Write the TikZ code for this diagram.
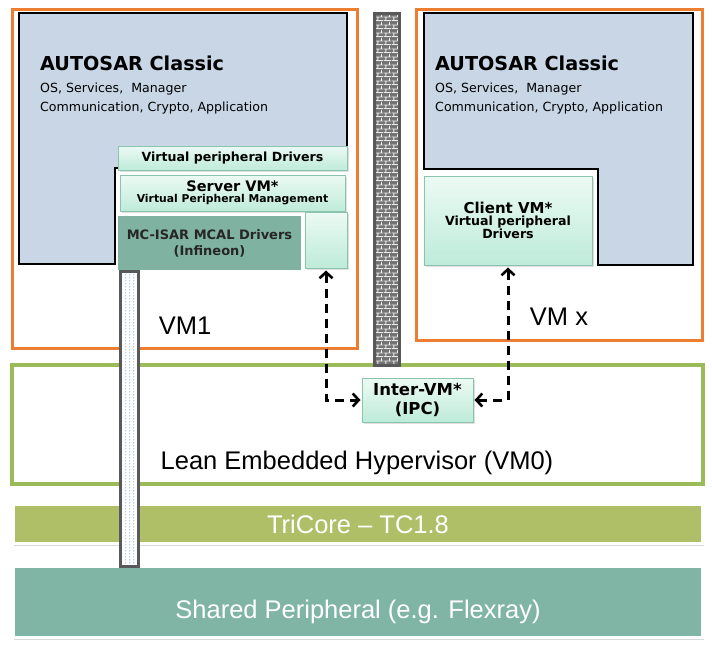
\documentclass[tikz,border=0pt]{standalone}
\usepackage{fontspec}
\setmainfont{DejaVu Sans}
\newfontfamily\arialfont{Liberation Sans}
\usepackage{tikz}
\usetikzlibrary{arrows.meta,shadows,patterns.meta}

\definecolor{VMOrange}{RGB}{237,125,49}
\definecolor{ASBlue}{RGB}{200,214,229}
\definecolor{MintTop}{RGB}{236,250,244}
\definecolor{MintBot}{RGB}{190,235,218}
\definecolor{MintLine}{RGB}{140,195,175}
\definecolor{McalTeal}{RGB}{127,178,161}
\definecolor{HypGreen}{RGB}{155,187,89}
\definecolor{CoreOlive}{RGB}{174,191,104}
\definecolor{PeriTeal}{RGB}{128,181,166}
\definecolor{WallGray}{RGB}{89,89,89}
\definecolor{BrickGray}{RGB}{115,115,115}
\definecolor{DotBlue}{RGB}{120,175,195}

\tikzdeclarepattern{
  name=wallbricks,
  type=uncolored,
  bounding box={(0pt,0pt) and (8pt,8pt)},
  tile size={(8pt,8pt)},
  code={
    \draw[line width=1pt] (0pt,0.5pt) -- (8pt,0.5pt) (0pt,4.5pt) -- (8pt,4.5pt)
      (2pt,0.5pt) -- (2pt,4.5pt) (6pt,4.5pt) -- (6pt,8pt);
  }
}
\tikzdeclarepattern{
  name=walldots,
  type=uncolored,
  bounding box={(0pt,0pt) and (4pt,3pt)},
  tile size={(4pt,3pt)},
  code={\fill (2pt,1.5pt) circle (0.8pt);}
}

\begin{document}
\begin{tikzpicture}[x=1pt,y=-1pt]
			\tikzstyle{VMFrame}	= [draw=VMOrange, line width=3pt]
			\tikzstyle{Autosar}	= [draw=black, fill=ASBlue, line width=1.5pt]
			\tikzstyle{Title}	= [anchor=base west, inner sep=0pt, font=\bfseries\fontsize{19.2}{22}\selectfont]
			\tikzstyle{SubText}	= [anchor=base west, inner sep=0pt, font=\fontsize{12.6}{14}\selectfont]
			\tikzstyle{Mint}	= [draw=MintLine, line width=1pt, top color=MintTop, bottom color=MintBot, inner sep=0pt, align=center,
			                       drop shadow={opacity=0.25, shadow xshift=1.5pt, shadow yshift=-1.5pt}]
			\tikzstyle{Mcal}	= [fill=McalTeal, text=black!85, inner sep=0pt, align=center]
			\tikzstyle{Wall}	= [draw=WallGray, line width=3pt]
			\tikzstyle{Band}	= [draw=white, line width=3.5pt, drop shadow={opacity=0.3, shadow xshift=0.8pt, shadow yshift=-2pt}]
			\tikzstyle{BigLabel}	= [font=\arialfont\fontsize{25.5}{30}\selectfont]
			\tikzstyle{BandLabel}	= [text=white, font=\arialfont\fontsize{25.5}{30}\selectfont]
			\tikzstyle{IPCLink}	= [dash pattern=on 9pt off 6pt, line width=3pt, shorten <=2pt, shorten >=1pt,
			                       {Straight Barb[length=6pt,width=13pt,line width=2.6pt]}-{Straight Barb[length=6pt,width=13pt,line width=2.6pt]}]

			\useasboundingbox (0,0) rectangle (712,645);

			% virtual machines
			\node (vm1) at (184.5,178.5) [VMFrame, minimum width=345pt, minimum height=339pt] {};
			\node (vmx) at (559,174.5) [VMFrame, minimum width=286pt, minimum height=331pt] {};

			\draw [Autosar] (19,13) -- (347,13) -- (347,168) -- (115,168) -- (115,264) -- (19,264) -- cycle;
			\draw [Autosar] (424,13) -- (693,13) -- (693,265) -- (598,265) -- (598,169) -- (424,169) -- cycle;

			\node (as1) at (40,70) [Title] {AUTOSAR Classic};
			\node (as1a) at (40,92) [SubText] {OS, Services,~ Manager};
			\node (as1b) at (40,111) [SubText] {Communication, Crypto, Application};
			\node (asx) at (435,70) [Title] {AUTOSAR Classic};
			\node (asxa) at (435,92) [SubText] {OS, Services,~ Manager};
			\node (asxb) at (435,111) [SubText] {Communication, Crypto, Application};

			% server side
			\node (vpd) at (232.5,158) [Mint, minimum width=229pt, minimum height=24pt,
				font=\bfseries\fontsize{12.6}{14}\selectfont] {Virtual peripheral Drivers};
			\node (server) at (232.5,193) [Mint, minimum width=225pt, minimum height=36pt]
				{{\bfseries\fontsize{14.5}{15}\selectfont Server VM*}\\[-1pt]{\bfseries\fontsize{10.8}{12}\selectfont Virtual Peripheral Management}};
			\node (vpm) at (326,240) [Mint, minimum width=42pt, minimum height=56pt] {};
			\node (mcal) at (209.5,243) [Mcal, minimum width=183pt, minimum height=54pt,
				font=\bfseries\fontsize{13}{16}\selectfont] {MC-ISAR MCAL Drivers\\(Infineon)};

			% client side
			\node (client) at (508,220.5) [Mint, minimum width=168pt, minimum height=89pt]
				{{\bfseries\fontsize{15}{17}\selectfont Client VM*}\\{\bfseries\fontsize{12.6}{15}\selectfont Virtual peripheral}\\{\bfseries\fontsize{12.6}{15}\selectfont Drivers}};

			\node (vm1label) at (185,326) [BigLabel] {VM1};
			\node (vmxlabel) at (559,317) [BigLabel] {VM x};

			% hypervisor and hardware
			\node (hyp) at (357.5,424.5) [draw=HypGreen, line width=3.5pt, minimum width=691pt, minimum height=119pt] {};
			\node (hyplabel) at (357,463) [BigLabel] {Lean Embedded Hypervisor (VM0)};
			\node (ipc) at (417.5,400) [Mint, minimum width=111pt, minimum height=44pt,
				font=\bfseries\fontsize{16.5}{19}\selectfont] {Inter-VM*\\(IPC)};

			\node (core) at (358,524) [Band, fill=CoreOlive, minimum width=690pt, minimum height=39pt] {};
			\node (corelabel) at (358,524) [BandLabel] {TriCore – TC1.8};
			\node (peri) at (358,602) [Band, fill=PeriTeal, minimum width=690pt, minimum height=71pt] {};
			\node (perilabel) at (358,612) [BandLabel] {Shared Peripheral (e.g. Flexray)};

			% separation walls
			\node (firewall) at (386.5,189) [Wall, minimum width=25pt, minimum height=352pt,
				preaction={fill=BrickGray}, pattern=wallbricks, pattern color=white!85!gray] {};
			\node (passwall) at (129,418.5) [Wall, minimum width=18pt, minimum height=295pt,
				preaction={fill=white}, pattern=walldots, pattern color=DotBlue] {};

			\draw [IPCLink] (vpm.south) |- (ipc.west);
			\draw [IPCLink] (client.south) |- (ipc.east);
		\end{tikzpicture}
\end{document}
